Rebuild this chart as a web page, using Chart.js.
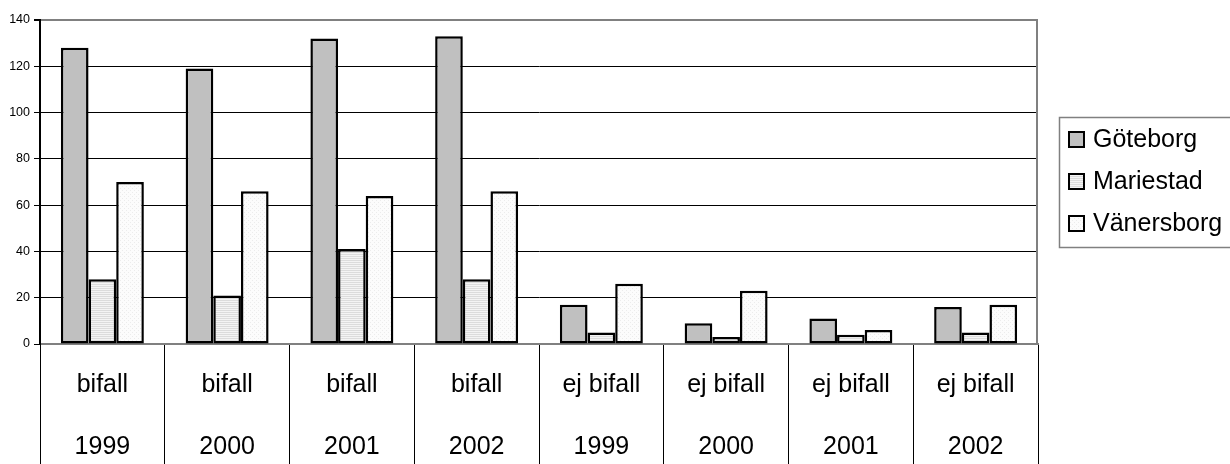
<!DOCTYPE html>
<html>
<head>
<meta charset="utf-8">
<script src="https://cdn.jsdelivr.net/npm/chart.js@4/dist/chart.umd.min.js"></script>
<style>
  html, body { margin: 0; padding: 0; background: #fff; }
  #wrap { width: 1230px; height: 464px; }
</style>
</head>
<body>
<div id="wrap"><canvas id="chart" width="1230" height="464"></canvas></div>
<script>
const categories = [
  ['bifall', '1999'], ['bifall', '2000'], ['bifall', '2001'], ['bifall', '2002'],
  ['ej bifall', '1999'], ['ej bifall', '2000'], ['ej bifall', '2001'], ['ej bifall', '2002'],
];
const seriesNames = ['Göteborg', 'Mariestad', 'Vänersborg'];
const goteborg   = [128, 119, 132, 133, 17, 9, 11, 16];
const mariestad  = [28, 21, 41, 28, 5, 3, 4, 5];
const vanersborg = [70, 66, 64, 66, 26, 23, 6, 17];
const yTicks = [0, 20, 40, 60, 80, 100, 120, 140];

const FONT = '"Liberation Sans", Arial, sans-serif';

/* ─── Füllmuster wie im Excel-Original ─── */
function stripePattern() {
  const c = document.createElement('canvas');
  c.width = 4; c.height = 2;
  const g = c.getContext('2d');
  g.fillStyle = '#f4f4f4'; g.fillRect(0, 0, 4, 2);
  g.fillStyle = '#dcdcdc'; g.fillRect(0, 0, 4, 1);
  return g.createPattern(c, 'repeat');
}
function dotPattern() {
  const c = document.createElement('canvas');
  c.width = 4; c.height = 4;
  const g = c.getContext('2d');
  g.fillStyle = '#fcfcfc'; g.fillRect(0, 0, 4, 4);
  g.fillStyle = '#ececec';
  g.fillRect(0, 0, 1, 1); g.fillRect(2, 2, 1, 1);
  return g.createPattern(c, 'repeat');
}

/* Legende mit Rahmen rechts */
const boxLegend = {
  id: 'boxLegend',
  afterDraw(chart) {
    const { ctx, chartArea } = chart;
    ctx.save();
    // rechter Rahmen des Plotbereichs
    ctx.strokeStyle = '#808080';
    ctx.lineWidth = 2;
    ctx.beginPath();
    ctx.moveTo(chartArea.right - 1, chartArea.top);
    ctx.lineTo(chartArea.right - 1, chartArea.bottom);
    ctx.stroke();

    ctx.strokeStyle = '#808080';
    ctx.lineWidth = 1.5;
    ctx.strokeRect(1059.5, 117.5, 200, 130);
    ctx.font = '25px ' + FONT;
    ctx.textBaseline = 'middle';
    ctx.textAlign = 'left';
    chart.data.datasets.forEach((ds, i) => {
      const y = 139 + i * 42;
      ctx.fillStyle = ds.backgroundColor;
      ctx.fillRect(1069, y - 7, 15, 15);
      ctx.strokeStyle = '#000';
      ctx.lineWidth = 2;
      ctx.strokeRect(1069, y - 7, 15, 15);
      ctx.fillStyle = '#000';
      ctx.fillText(ds.label, 1093, y + 1);
    });
    ctx.restore();
  },
};

const fills = ['#c0c0c0', stripePattern(), dotPattern()];
const values = [goteborg, mariestad, vanersborg];

new Chart(document.getElementById('chart').getContext('2d'), {
  type: 'bar',
  data: {
    labels: categories,
    datasets: seriesNames.map((name, i) => ({
      label: name,
      data: values[i],
      backgroundColor: fills[i],
      borderColor: '#000',
      borderWidth: 2.5,
      borderSkipped: false,
      categoryPercentage: 0.665,
      barPercentage: 1.0,
    })),
  },
  options: {
    responsive: false,
    animation: false,
    layout: { padding: { top: 20, right: 192, left: 0, bottom: 0 } },
    plugins: { legend: { display: false }, tooltip: { enabled: false } },
    scales: {
      x: {
        offset: true,
        afterFit: s => { s.height = 120; },
        border: { display: true, color: '#808080', width: 2 },
        grid: {
          offset: true, drawOnChartArea: false, drawTicks: true,
          tickLength: 120, color: '#000', lineWidth: 1,
        },
        ticks: {
          color: '#000', autoSkip: false, maxRotation: 0, padding: -110,
          font: { family: FONT, size: 25, lineHeight: 2.48 },
        },
      },
      y: {
        min: 0, max: 140,
        afterFit: s => { s.width = 40; },
        afterBuildTicks: s => { s.ticks = yTicks.map(v => ({ value: v })); },
        border: { display: true, color: '#000', width: 2 },
        grid: {
          color: c => (c.tick && c.tick.value === 140 ? '#808080' : '#000'),
          lineWidth: c => (c.tick && c.tick.value === 140 ? 2 : 1),
          tickColor: '#000', tickLength: 6,
        },
        ticks: {
          color: '#000', padding: 4,
          font: { family: FONT, size: 12.5 },
        },
      },
    },
  },
  plugins: [boxLegend],
});
</script>
</body>
</html>
